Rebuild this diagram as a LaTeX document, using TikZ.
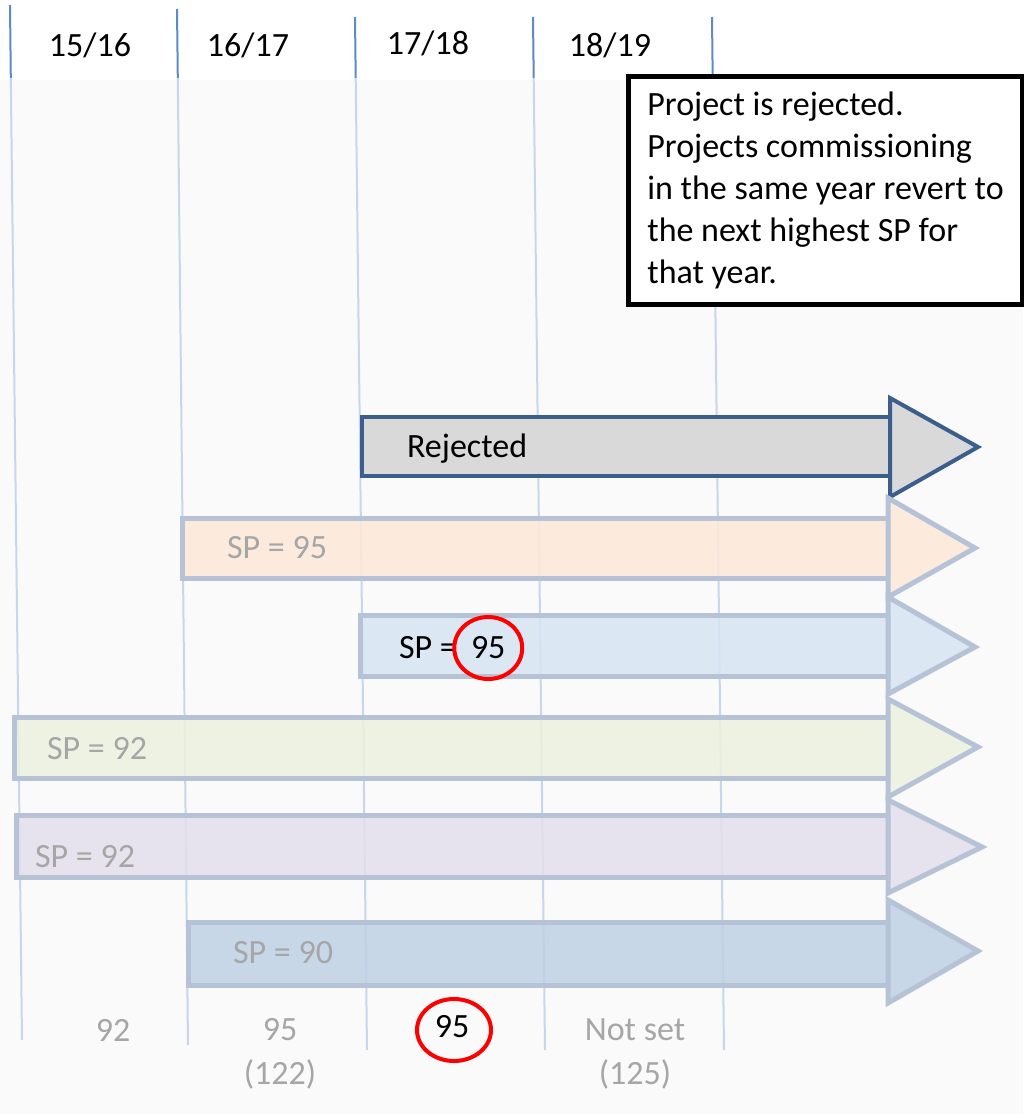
\documentclass[tikz,border=0pt]{standalone}
\usepackage{fontspec}
\setmainfont{Carlito}
\usetikzlibrary{positioning}

\definecolor{hdrline}{HTML}{5B8BC9}
\definecolor{gridline}{HTML}{C6D6EC}
\definecolor{rejline}{HTML}{3B5E8C}
\definecolor{rejfill}{HTML}{D9D9D9}
\definecolor{paleline}{HTML}{B6C3D6}
\definecolor{orangefill}{HTML}{FDE9D9}
\definecolor{bluefill}{HTML}{D7E4F4}
\definecolor{greenfill}{HTML}{EBF1DE}
\definecolor{purplefill}{HTML}{E4DFEC}
\definecolor{deepfill}{HTML}{BFD1E6}
\definecolor{greytext}{HTML}{A6A6A6}

\tikzset{
  yearlabel/.style={font=\fontsize{17}{21}\selectfont},
  greylabel/.style={text=greytext, font=\fontsize{17}{21}\selectfont},
  paleband/.style={draw=paleline, line width=2.5pt, fill opacity=0.85},
  rejband/.style={draw=rejline, line width=2pt, fill=rejfill},
  redring/.style={draw=red, line width=2pt},
}

\begin{document}
\begin{tikzpicture}[x=0.5pt,y=-0.5pt]
\useasboundingbox (0,0) rectangle (1023,1114);
% faint page tint below the header
\fill[black!2] (0,80) rectangle (1023,1114);

% year columns
\draw[hdrline, line width=1pt] (10,5) -- (10.8,78) (177,9) -- (177.8,78)
  (355,17) -- (355.7,78) (533,17) -- (533.7,78) (712,17) -- (712.7,78);
\draw[gridline, line width=1pt] (10.8,78) -- (22,1040) (177.8,78) -- (188,1045)
  (355.7,78) -- (367,1050) (533.7,78) -- (545,1050) (712.7,78) -- (724,1050);

\node[yearlabel] (y1516) at (90,45) {15/16};
\node[yearlabel] (y1617) at (248,45) {16/17};
\node[yearlabel] (y1718) at (428,43) {17/18};
\node[yearlabel] (y1819) at (610,45) {18/19};

% note box
\node[draw, line width=2.5pt, fill=white, anchor=north west, minimum width=197pt,
  minimum height=114pt, align=left, inner xsep=6pt,
  font=\fontsize{17}{21}\selectfont] (note) at (626,74)
  {Project is rejected.\\ Projects commissioning\\ in the same year revert to\\
   the next highest SP for\\ that year.};

% rejected project
\draw[rejband] (362,417) rectangle (890,476);
\draw[rejband] (890,398) -- (978,447) -- (890,497) -- cycle;
\node[anchor=west, yearlabel] (rej) at (400,449) {Rejected};

% other projects
\draw[paleband, fill=orangefill] (182,518) rectangle (888,578);
\draw[paleband, fill=orangefill] (888,498) -- (975,548) -- (888,597) -- cycle;
\node[anchor=west, greylabel] (spa) at (220,548) {SP = 95};

\draw[paleband, fill=bluefill] (360,615) rectangle (888,676);
\draw[paleband, fill=bluefill] (888,597) -- (975,647) -- (888,694) -- cycle;
\node[anchor=west, yearlabel] (spb) at (392,648) {SP =};
\node[yearlabel, right=0pt of spb] (spbval) {95};
\draw[redring] (spbval.center) ellipse [x radius=17pt, y radius=15.5pt];

\draw[paleband, fill=greenfill] (14,717) rectangle (888,778);
\draw[paleband, fill=greenfill] (888,699) -- (978,747) -- (888,797) -- cycle;
\node[anchor=west, greylabel] (spc) at (40,749) {SP = 92};

\draw[paleband, fill=purplefill] (16,815) rectangle (888,877);
\draw[paleband, fill=purplefill] (888,800) -- (982,847) -- (888,893) -- cycle;
\node[anchor=west, greylabel] (spd) at (28,857) {SP = 92};

\draw[paleband, fill=deepfill] (188,922) rectangle (888,985);
\draw[paleband, fill=deepfill] (888,900) -- (978,951) -- (888,1003) -- cycle;
\node[anchor=west, greylabel] (spe) at (226,953) {SP = 90};

% prices per year
\node[greylabel] (p1516) at (113,1030) {92};
\node[greylabel] (p1617) at (280,1030) {95};
\node[greylabel, below=2pt of p1617] (c1617) {(122)};
\node[yearlabel] (p1718) at (452,1027) {95};
\draw[redring] (454,1030) ellipse [x radius=18.5pt, y radius=15.5pt];
\node[greylabel] (p1819) at (635,1030) {Not set};
\node[greylabel, below=2pt of p1819] (c1819) {(125)};

\end{tikzpicture}
\end{document}
